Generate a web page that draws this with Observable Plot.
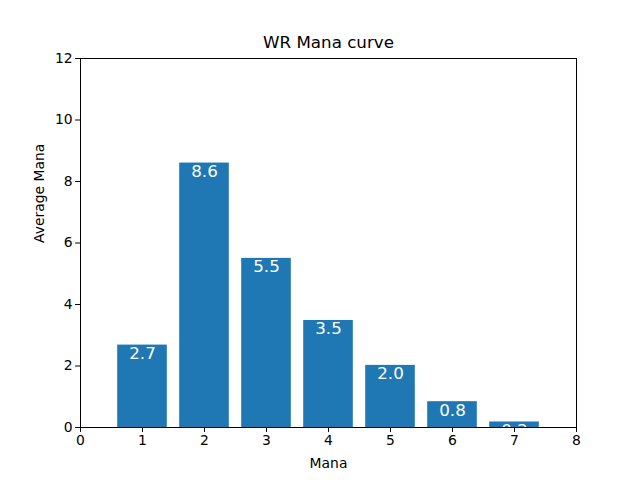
<!DOCTYPE html>
<html>
<head>
<meta charset="utf-8">
<script src="https://cdn.jsdelivr.net/npm/d3@7"></script>
<script src="https://cdn.jsdelivr.net/npm/@observablehq/plot@0.6"></script>
<style>
body { margin: 0; background: #fff; }
svg { font-family: "DejaVu Sans", sans-serif; }
</style>
</head>
<body>
<div id="chart"></div>
<script>
const manaCosts = [1, 2, 3, 4, 5, 6, 7];
const averageCounts = [2.68, 8.6, 5.5, 3.48, 2.02, 0.84, 0.18];
const xTicks = [0, 1, 2, 3, 4, 5, 6, 7, 8];
const yTicks = [0, 2, 4, 6, 8, 10, 12];
const chartTitle = "WR Mana curve";
const xLabel = "Mana";
const yLabel = "Average Mana";

const data = manaCosts.map((m, i) => ({mana: m, value: averageCounts[i], label: averageCounts[i].toFixed(1)}));

const chart = Plot.plot({
  width: 640,
  height: 480,
  marginLeft: 80,
  marginRight: 64,
  marginTop: 58,
  marginBottom: 53,
  style: {fontFamily: "DejaVu Sans, sans-serif", background: "#fff"},
  x: {domain: [0, 8], ticks: xTicks, tickFormat: d => String(d)},
  y: {domain: [0, 12], ticks: yTicks, tickFormat: d => String(d)},
  marks: [
    Plot.rectY(data, {x1: d => d.mana - 0.4, x2: d => d.mana + 0.4, y1: 0, y2: "value", fill: "#1f77b4"}),
    Plot.text(data, {x: "mana", y: "value", text: "label", fill: "white", fontSize: 16.7, lineAnchor: "top", dy: 2, clip: true}),
    Plot.frame({stroke: "black", strokeWidth: 1}),
    Plot.axisX({ticks: xTicks, tickSize: 4.9, tickPadding: 3, fontSize: 13.9, label: null, stroke: "black", color: "black"}),
    Plot.axisY({ticks: yTicks, tickSize: 4.9, tickPadding: 3, fontSize: 13.9, label: null, stroke: "black", color: "black"}),
    Plot.text([chartTitle], {frameAnchor: "top", dy: -16, fontSize: 16.7, fill: "black", lineAnchor: "middle"}),
    Plot.text([xLabel], {frameAnchor: "bottom", dy: 36, fontSize: 13.9, fill: "black", lineAnchor: "middle"}),
    Plot.text([yLabel], {frameAnchor: "left", dx: -41, rotate: -90, fontSize: 13.9, fill: "black", lineAnchor: "middle"})
  ]
});
document.getElementById("chart").appendChild(chart);
</script>
</body>
</html>
